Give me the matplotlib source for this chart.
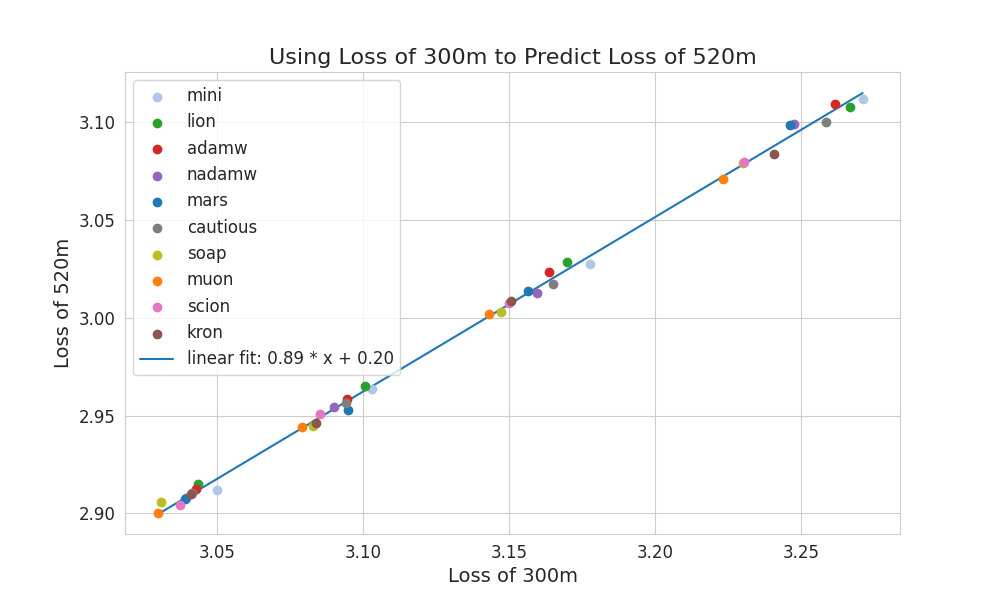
import numpy as np
import matplotlib
matplotlib.use('Agg')
import matplotlib.pyplot as plt
import seaborn as sns

sns.set_style('whitegrid')
plt.rcParams['font.family'] = ['DejaVu Sans']

optimizers = ['mini', 'lion', 'adamw', 'nadamw', 'mars', 'cautious', 'soap', 'muon', 'scion', 'kron']
colors = ['#aec7e8', 'tab:green', 'tab:red', 'tab:purple', 'tab:blue', 'tab:gray',
          'tab:olive', 'tab:orange', 'tab:pink', 'tab:brown']
loss_300m = {
    'mini':     [3.0500, 3.1031, 3.1777, 3.2712],
    'lion':     [3.0435, 3.1007, 3.1699, 3.2668],
    'adamw':    [3.0428, 3.0945, 3.1637, 3.2616],
    'nadamw':   [3.0394, 3.0901, 3.1596, 3.2476],
    'mars':     [3.0390, 3.0949, 3.1565, 3.2462],
    'cautious': [3.0414, 3.0942, 3.1651, 3.2588],
    'soap':     [3.0308, 3.0828, 3.1473, 3.2301],
    'muon':     [3.0298, 3.0793, 3.1432, 3.2233],
    'scion':    [3.0373, 3.0853, 3.1500, 3.2305],
    'kron':     [3.0411, 3.0838, 3.1507, 3.2408],
}
loss_520m = {
    'mini':     [2.9118, 2.9636, 3.0272, 3.1118],
    'lion':     [2.9149, 2.9651, 3.0282, 3.1077],
    'adamw':    [2.9123, 2.9585, 3.0231, 3.1092],
    'nadamw':   [2.9077, 2.9544, 3.0128, 3.0990],
    'mars':     [2.9072, 2.9528, 3.0138, 3.0985],
    'cautious': [2.9103, 2.9564, 3.0174, 3.1000],
    'soap':     [2.9056, 2.9446, 3.0031, 3.0790],
    'muon':     [2.9000, 2.9441, 3.0021, 3.0708],
    'scion':    [2.9041, 2.9508, 3.0077, 3.0795],
    'kron':     [2.9097, 2.9462, 3.0087, 3.0836],
}

fig, ax = plt.subplots(figsize=(10, 6), dpi=100)
for name, c in zip(optimizers, colors):
    ax.scatter(loss_300m[name], loss_520m[name], color=c, s=36, label=name, zorder=3)

xs = np.concatenate([loss_300m[n] for n in optimizers])
ys = np.concatenate([loss_520m[n] for n in optimizers])
a, b = np.polyfit(xs, ys, 1)
xx = np.array([xs.min(), xs.max()])
ax.plot(xx, a * xx + b, color='tab:blue', lw=1.5, label=f'linear fit: {a:.2f} * x + {b:.2f}', zorder=2)

ax.set_title('Using Loss of 300m to Predict Loss of 520m', fontsize=16)
ax.set_xlabel('Loss of 300m', fontsize=14)
ax.set_ylabel('Loss of 520m', fontsize=14)
ax.tick_params(labelsize=12)
ax.set_xticks([3.05, 3.10, 3.15, 3.20, 3.25])
ax.set_yticks([2.90, 2.95, 3.00, 3.05, 3.10])
ax.set_xlim(3.0185, 3.2840)
ax.set_ylim(2.8895, 3.1255)
ax.legend(fontsize=12, loc='upper left')
fig.savefig('out.png', dpi=100)
